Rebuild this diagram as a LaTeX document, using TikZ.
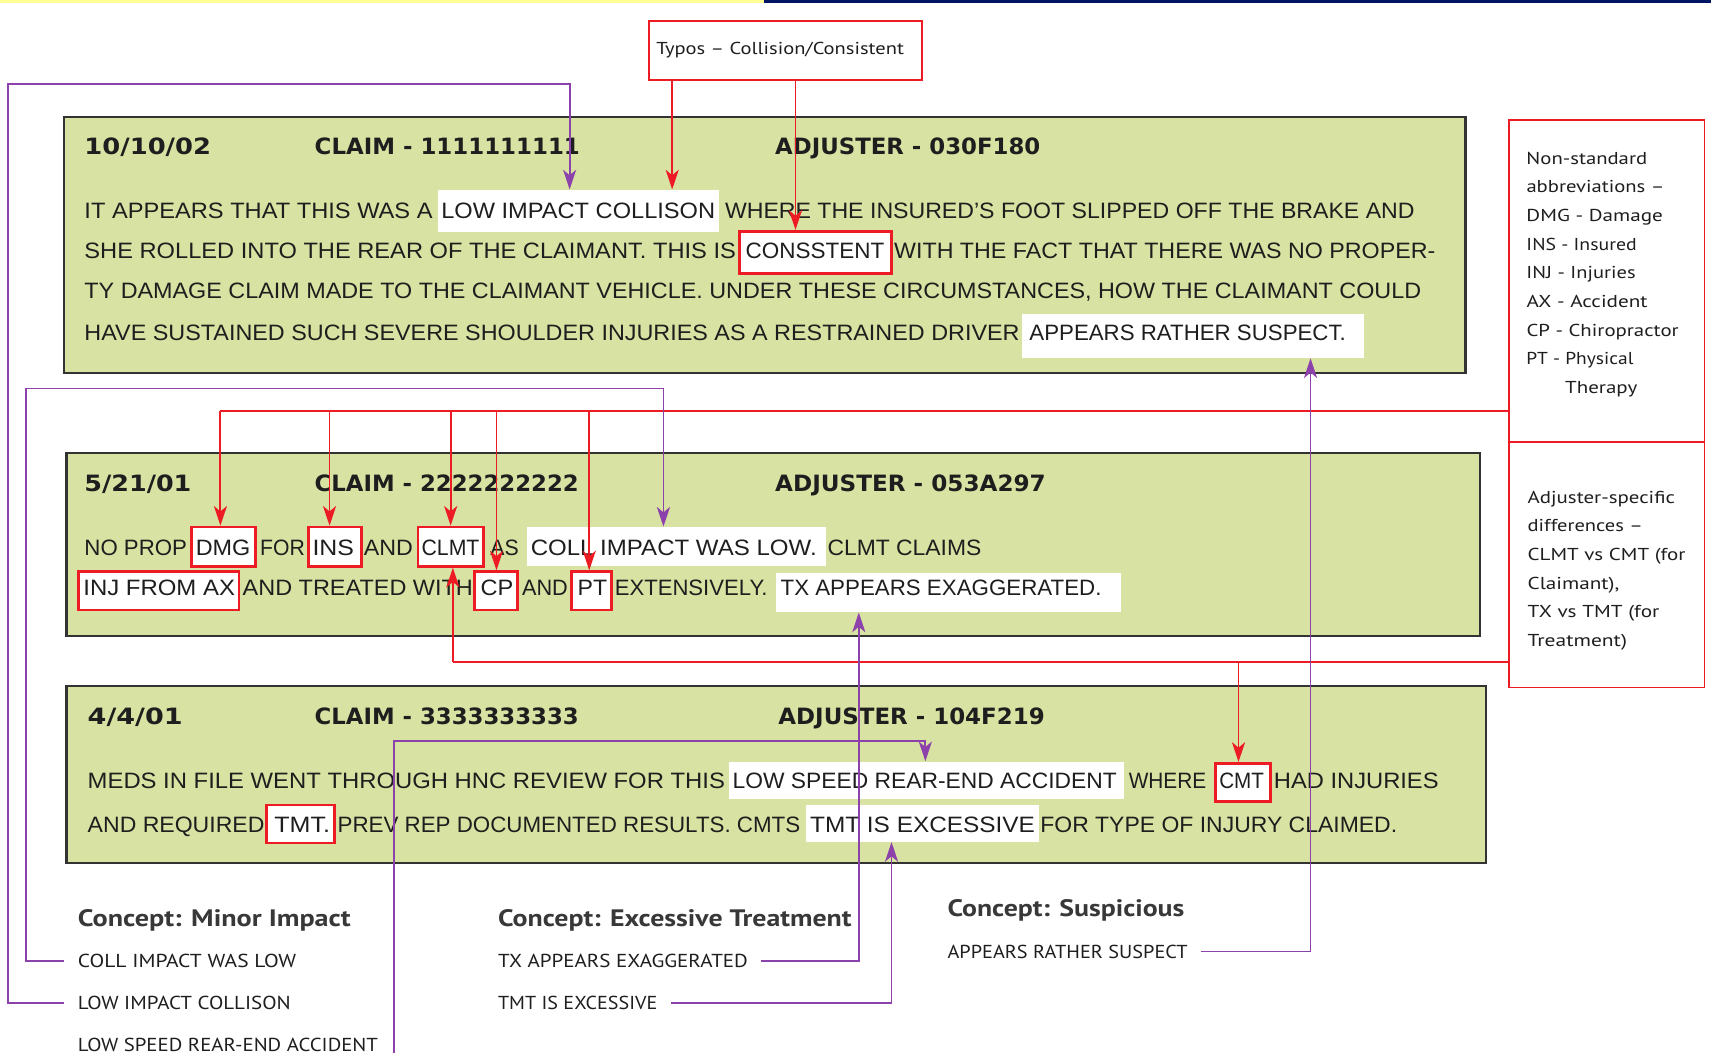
\documentclass[tikz,border=0pt]{standalone}
\usepackage{fontspec}
\usetikzlibrary{arrows.meta,fit,calc}
\newfontfamily\bodyf{Liberation Sans}
\newfontfamily\headf{DejaVu Sans}
\newfontfamily\myrf{PT Sans}
\newcommand\bodyfont{\bodyf\fontsize{10.2}{12}\selectfont}
\newcommand\headfont{\headf\bfseries\fontsize{10.3}{12}\selectfont}
\newcommand\cheadfont{\myrf\bfseries\fontsize{10.9}{13}\selectfont}
\newcommand\itemfont{\myrf\fontsize{8.6}{10}\selectfont}
\newcommand\sidefont{\myrf\fontsize{7.9}{9}\selectfont}
\newlength\fitl
\newcommand\fitw[2]{\settowidth\fitl{#2}\pgfmathsetmacro\fitr{(#1*0.5)/\fitl}\scalebox{\fitr}[1]{#2}}
\newcommand\seg[6]{\node[#1] (#2) at (#3,#4) {\fitw{#5}{#6}};}
\definecolor{boxgreen}{RGB}{216,226,162}
\definecolor{hlred}{RGB}{237,28,36}
\definecolor{conpurple}{RGB}{140,66,170}
\definecolor{txt}{RGB}{30,30,30}
\definecolor{bandyellow}{RGB}{255,255,150}
\definecolor{bandnavy}{RGB}{0,20,100}
\begin{document}
\begin{tikzpicture}[x=0.5pt,y=-0.5pt,
  claimbox/.style={draw=black!80,line width=1pt,fill=boxgreen,inner sep=0pt},
  wbox/.style={fill=white,inner sep=0pt},
  rbox/.style={fill=white,draw=hlred,line width=1.3pt,inner sep=0pt},
  sidebox/.style={draw=hlred,line width=0.8pt,inner sep=0pt},
  body/.style={anchor=base west,inner sep=0pt,font=\bodyfont,text=txt},
  head/.style={anchor=base west,inner sep=0pt,font=\headfont,text=txt},
  chead/.style={anchor=base west,inner sep=0pt,font=\cheadfont,text=black!78},
  item/.style={anchor=base west,inner xsep=6pt,inner ysep=0pt,font=\itemfont,text=txt},
  side/.style={anchor=base west,inner sep=0pt,font=\sidefont,text=txt},
  rline/.style={draw=hlred,line width=0.85pt},
  rarrow/.style={draw=hlred,line width=0.85pt,-{Stealth[length=9pt,width=6pt,inset=2.5pt]}},
  parrow/.style={draw=conpurple,line width=0.85pt,-{Stealth[length=9pt,width=6pt,inset=2.5pt]}},
]
\useasboundingbox (0,0) rectangle (1568,972);
\fill[white] (0,0) rectangle (1568,972);
\fill[bandyellow] (0,0) rectangle (700,2.5);
\fill[bandnavy] (700,0) rectangle (1568,3);

% claim boxes
\node[claimbox,fit={(59,107) (1343,342)}] (box1) {};
\node[claimbox,fit={(61,415) (1356,583)}] (box2) {};
\node[claimbox,fit={(61,629) (1362,791)}] (box3) {};

% highlight boxes
\node[wbox,fit={(401,174) (659,213)}] (lic) {};
\node[rbox,fit={(678,212) (817,251)}] (cons) {};
\node[wbox,fit={(937,288) (1250,328)}] (susp) {};
\node[rbox,fit={(175.5,483) (234,519)}] (dmg) {};
\node[rbox,fit={(282.5,483) (331,519)}] (ins) {};
\node[rbox,fit={(383,483) (443,519)}] (clmt) {};
\node[wbox,fit={(483,483) (757,519)}] (coll) {};
\node[rbox,fit={(72,524) (219,559)}] (injax) {};
\node[rbox,fit={(435,524) (474,559)}] (cp) {};
\node[rbox,fit={(524,524) (560.6,559)}] (pt) {};
\node[wbox,fit={(711,525) (1027,561)}] (tx) {};
\node[wbox,fit={(668,698) (1030,732)}] (speed) {};
\node[rbox,fit={(1114,699.5) (1164,734.7)}] (cmt) {};
\node[rbox,fit={(244,737.7) (306.5,772.6)}] (tmt) {};
\node[wbox,fit={(739,737.7) (952,771.3)}] (tmtx) {};

% box 1 text
\seg{head}{h1a}{77}{142}{116}{10/10/02}
\seg{head}{h1b}{288}{142}{243}{CLAIM - 1111111111}
\seg{head}{h1c}{710}{142}{243}{ADJUSTER - 030F180}
\seg{body}{t1a}{77}{200}{319}{IT APPEARS THAT THIS WAS A}
\seg{body}{t1b}{404}{200}{251}{LOW IMPACT COLLISON}
\seg{body}{t1c}{664}{200}{632}{WHERE THE INSURED’S FOOT SLIPPED OFF THE BRAKE AND}
\seg{body}{t2a}{77}{236.5}{597}{SHE ROLLED INTO THE REAR OF THE CLAIMANT. THIS IS}
\seg{body}{t2b}{683}{236.5}{127}{CONSSTENT}
\seg{body}{t2c}{819}{236.5}{496}{WITH THE FACT THAT THERE WAS NO PROPER-}
\seg{body}{t3}{77}{274}{1225}{TY DAMAGE CLAIM MADE TO THE CLAIMANT VEHICLE. UNDER THESE CIRCUMSTANCES, HOW THE CLAIMANT COULD}
\seg{body}{t4a}{77}{312}{857}{HAVE SUSTAINED SUCH SEVERE SHOULDER INJURIES AS A RESTRAINED DRIVER}
\seg{body}{t4b}{943}{312}{290}{APPEARS RATHER SUSPECT.}

% box 2 text
\seg{head}{h2a}{77}{450}{98}{5/21/01}
\seg{head}{h2b}{288}{450}{242}{CLAIM - 2222222222}
\seg{head}{h2c}{710}{450}{248}{ADJUSTER - 053A297}
\seg{body}{u1a}{77}{509}{94}{NO PROP}
\seg{body}{u1b}{179}{509}{50}{DMG}
\seg{body}{u1c}{238}{509}{41}{FOR}
\seg{body}{u1d}{286}{509}{38}{INS}
\seg{body}{u1e}{333}{509}{45}{AND}
\seg{body}{u1f}{386}{509}{53}{CLMT}
\seg{body}{u1g}{449}{509}{26}{AS}
\seg{body}{u1h}{486}{509}{262}{COLL IMPACT WAS LOW.}
\seg{body}{u1i}{758}{509}{141}{CLMT CLAIMS}
\seg{body}{u2a}{76}{546}{139}{INJ FROM AX}
\seg{body}{u2b}{222}{546}{211}{AND TREATED WITH}
\seg{body}{u2c}{440}{546}{30}{CP}
\seg{body}{u2d}{478}{546}{42}{AND}
\seg{body}{u2e}{529}{546}{27}{PT}
\seg{body}{u2f}{563}{546}{140}{EXTENSIVELY.}
\seg{body}{u2g}{715}{546}{294}{TX APPEARS EXAGGERATED.}

% box 3 text
\seg{head}{h3a}{80}{664}{87}{4/4/01}
\seg{head}{h3b}{288}{664}{242}{CLAIM - 3333333333}
\seg{head}{h3c}{713}{664}{244}{ADJUSTER - 104F219}
\seg{body}{w1a}{80}{723}{584}{MEDS IN FILE WENT THROUGH HNC REVIEW FOR THIS}
\seg{body}{w1b}{671}{723}{352}{LOW SPEED REAR-END ACCIDENT}
\seg{body}{w1c}{1034}{723}{71}{WHERE}
\seg{body}{w1d}{1117}{723}{41}{CMT}
\seg{body}{w1e}{1167}{723}{151}{HAD INJURIES}
\seg{body}{w2a}{80}{763}{162}{AND REQUIRED}
\seg{body}{w2b}{251}{763}{51}{TMT.}
\seg{body}{w2c}{309}{763}{424}{PREV REP DOCUMENTED RESULTS. CMTS}
\seg{body}{w2d}{742}{763}{206}{TMT IS EXCESSIVE}
\seg{body}{w2e}{953}{763}{327}{FOR TYPE OF INJURY CLAIMED.}

% concepts
\seg{chead}{c1}{71}{849}{250}{Concept: Minor Impact}
\seg{item}{i1}{59}{887}{200}{COLL IMPACT WAS LOW}
\seg{item}{i2}{59}{925}{195}{LOW IMPACT COLLISON}
\seg{item}{i3}{59}{964}{275}{LOW SPEED REAR-END ACCIDENT}
\seg{chead}{c2}{456}{849}{324}{Concept: Excessive Treatment}
\seg{item}{i4}{444}{887}{229}{TX APPEARS EXAGGERATED}
\seg{item}{i5}{444}{925}{146}{TMT IS EXCESSIVE}
\seg{chead}{c3}{868}{840}{217}{Concept: Suspicious}
\seg{item}{i6}{856}{878}{220}{APPEARS RATHER SUSPECT}

% side boxes
\node[sidebox,fit={(1383,110) (1562,405)}] (abbr) {};
\node[sidebox,fit={(1383,405) (1562,630)}] (adj) {};
\seg{side}{s1}{1398.5}{150.3}{110.6}{Non-standard}
\seg{side}{s2}{1398.5}{176.6}{126.5}{abbreviations –}
\seg{side}{s3}{1398.5}{202.9}{125}{DMG - Damage}
\seg{side}{s4}{1398.5}{229.2}{101}{INS - Insured}
\seg{side}{s5}{1398.5}{255.5}{100}{INJ - Injuries}
\seg{side}{s6}{1398.5}{281.8}{111}{AX - Accident}
\seg{side}{s7}{1398.5}{308.1}{139.5}{CP - Chiropractor}
\seg{side}{s8}{1398.5}{334.4}{98}{PT - Physical}
\seg{side}{s9}{1434}{360.7}{66}{Therapy}
\seg{side}{s10}{1399.6}{461.3}{135}{Adjuster-specific}
\seg{side}{s11}{1399.6}{487.5}{105.7}{differences –}
\seg{side}{s12}{1399.6}{513.7}{144.6}{CLMT vs CMT (for}
\seg{side}{s13}{1399.6}{539.9}{84}{Claimant),}
\seg{side}{s14}{1399.6}{566.1}{120.6}{TX vs TMT (for}
\seg{side}{s15}{1399.6}{592.3}{91}{Treatment)}

% typos box
\node[sidebox,line width=0.9pt,fit={(595,19.5) (845,73.5)}] (typos) {};
\seg{side}{ty}{601}{50.4}{227}{Typos – Collision/Consistent}

% helper coordinates
\coordinate (v202) at (202,0);
\coordinate (v302) at (302,0);
\coordinate (v413) at (413,0);
\coordinate (v455) at (455,0);
\coordinate (v540) at (540,0);
\coordinate (v415) at (415,0);
\coordinate (v1135) at (1135,0);
\coordinate (v616) at (616,0);
\coordinate (v729) at (729,0);
\coordinate (v522) at (522,0);
\coordinate (v608) at (608,0);
\coordinate (v848) at (848,0);
\coordinate (v361) at (361,0);
\coordinate (v787) at (787,0);
\coordinate (v817) at (817,0);
\coordinate (v1201) at (1201,0);
\coordinate (h377) at (0,377);
\coordinate (h607) at (0,607);
\coordinate (pk1) at (7,77);
\coordinate (pk2) at (24,356);
\coordinate (pk3) at (361,679);

% red connectors
\draw[rarrow] (typos.south -| v616) -- (lic.north -| v616);
\draw[rarrow] (typos.south -| v729) -- (cons.north -| v729);
\draw[rline] (abbr.west |- h377) -- (h377 -| v202);
\draw[rarrow] (h377 -| v202) -- (dmg.north -| v202);
\draw[rarrow] (h377 -| v302) -- (ins.north -| v302);
\draw[rarrow] (h377 -| v413) -- (clmt.north -| v413);
\draw[rarrow] (h377 -| v455) -- (cp.north -| v455);
\draw[rarrow] (h377 -| v540) -- (pt.north -| v540);
\draw[rline] (adj.west |- h607) -- (h607 -| v415);
\draw[rarrow] (h607 -| v415) -- (clmt.south -| v415);
\draw[rarrow] (h607 -| v1135) -- (cmt.north -| v1135);

% purple connectors
\draw[parrow] (i2.west) -| (pk1) -| (lic.north -| v522);
\draw[parrow] (i1.west) -| (pk2) -| (coll.north -| v608);
\draw[parrow] (i3.south -| v361) -- (pk3) -| (speed.north -| v848);
\draw[parrow] (i4.east) -| (tx.south -| v787);
\draw[parrow] (i5.east) -| (tmtx.south -| v817);
\draw[parrow] (i6.east) -| (susp.south -| v1201);
\end{tikzpicture}
\end{document}
